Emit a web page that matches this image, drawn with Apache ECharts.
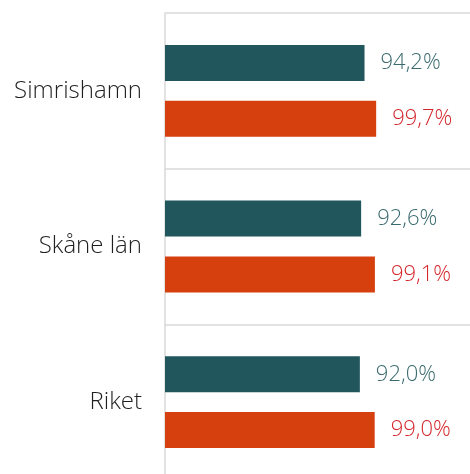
<!DOCTYPE html>
<html>
<head>
<meta charset="utf-8">
<script src="https://cdn.jsdelivr.net/npm/echarts@6/dist/echarts.min.js"></script>
<style>
html, body { margin: 0; padding: 0; background: #fff; }
#main { width: 470px; height: 474px; }
</style>
</head>
<body>
<div id="main"></div>
<script>
var categories = ['Simrishamn', 'Skåne län', 'Riket'];
var seriesA = [94.2, 92.6, 92.0];
var seriesB = [99.7, 99.1, 99.0];

function pct(p) {
    return p.value.toFixed(1).replace('.', ',') + '%';
}

var chart = echarts.init(document.getElementById('main'));
var option = {
    animation: false,
    grid: { left: 165, width: 305, top: 13, height: 467, outerBoundsMode: 'none' },
    xAxis: {
        type: 'value',
        min: 0,
        max: 144,
        axisLabel: { show: false },
        axisLine: { show: false },
        axisTick: { show: false },
        splitLine: { show: false }
    },
    yAxis: {
        type: 'category',
        inverse: true,
        data: categories,
        axisTick: { show: false },
        axisLine: { show: true, lineStyle: { color: '#d9d9d9', width: 1.5 } },
        splitLine: { show: true, lineStyle: { color: '#d9d9d9', width: 1.5 } },
        axisLabel: {
            margin: 23,
            color: '#1f1f1f',
            fontSize: 24,
            fontFamily: 'Open Sans',
            fontWeight: 300
        }
    },
    series: [
        {
            type: 'bar',
            data: seriesA,
            barWidth: 36,
            barGap: '55%',
            itemStyle: { color: '#21565d' },
            label: {
                show: true,
                position: 'right',
                distance: 16,
                formatter: pct,
                color: '#3a6a6e',
                fontSize: 22,
                fontFamily: 'Open Sans',
                fontWeight: 300
            }
        },
        {
            type: 'bar',
            data: seriesB,
            barWidth: 36,
            itemStyle: { color: '#d6400f' },
            label: {
                show: true,
                position: 'right',
                distance: 16,
                formatter: pct,
                color: '#d4262b',
                fontSize: 22,
                fontFamily: 'Open Sans',
                fontWeight: 300
            }
        }
    ]
};
chart.setOption(option);
</script>
</body>
</html>
